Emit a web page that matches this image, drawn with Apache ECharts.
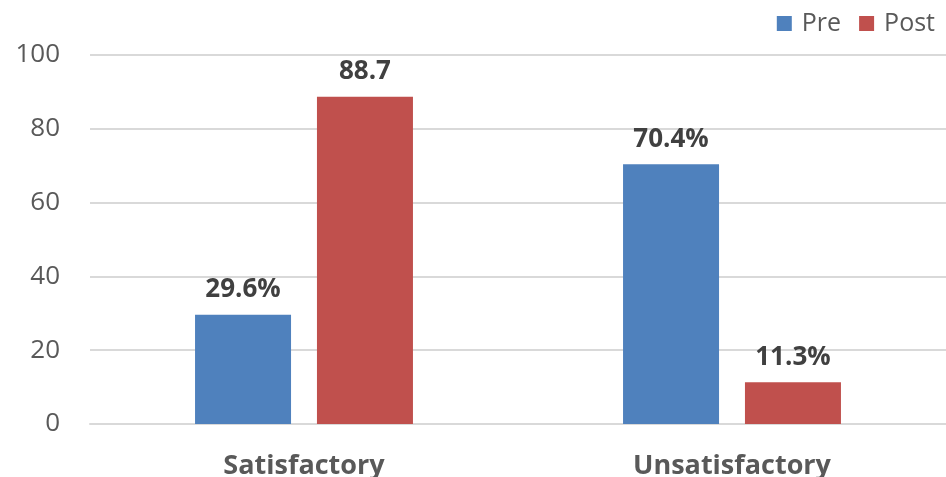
<!DOCTYPE html>
<html><head><meta charset="utf-8">
<script src="https://cdn.jsdelivr.net/npm/echarts@6/dist/echarts.min.js"></script>
<style>html,body{margin:0;padding:0;background:#fff}#c{width:946px;height:477px}</style>
</head><body><div id="c"></div>
<script>
const categories = ['Satisfactory', 'Unsatisfactory'];
const preValues = [29.6, 70.4];
const postValues = [88.7, 11.3];
const preLabels = ['29.6%', '70.4%'];
const postLabels = ['88.7', '11.3%'];
const yTicks = [0, 20, 40, 60, 80, 100];

const chart = echarts.init(document.getElementById('c'));
const font = '"Open Sans", "Liberation Sans", sans-serif';
const labelStyle = (labels) => ({
  show: true, position: 'top', distance: 12,
  formatter: p => labels[p.dataIndex],
  fontFamily: font, fontSize: 26, fontWeight: 'bold', color: '#404040'
});
chart.setOption({
  animation: false,
  textStyle: { fontFamily: font },
  legend: {
    right: 6, top: 6, itemWidth: 15, itemHeight: 15, itemGap: 18, icon: 'rect',
    textStyle: { fontSize: 25, color: '#595959', fontFamily: font, padding: [0, 0, 0, 5] },
    data: ['Pre', 'Post']
  },
  grid: { left: 90, right: 0, top: 55, bottom: 53, containLabel: false, outerBoundsMode: 'none' },
  xAxis: {
    type: 'category', data: categories,
    axisLine: { lineStyle: { color: '#d9d9d9', width: 2 } },
    axisTick: { show: false },
    axisLabel: { margin: 29, fontSize: 27, fontWeight: 'bold', color: '#595959', fontFamily: font }
  },
  yAxis: {
    type: 'value', min: yTicks[0], max: yTicks[yTicks.length - 1], interval: 20,
    axisLine: { show: false }, axisTick: { show: false },
    axisLabel: { margin: 30, fontSize: 26, color: '#595959', fontFamily: font },
    splitLine: { lineStyle: { color: '#d9d9d9', width: 2 } }
  },
  series: [
    { name: 'Pre', type: 'bar', data: preValues, barWidth: 96, barGap: '27%',
      itemStyle: { color: '#4f81bd' }, label: labelStyle(preLabels) },
    { name: 'Post', type: 'bar', data: postValues, barWidth: 96,
      itemStyle: { color: '#c0504d' }, label: labelStyle(postLabels) }
  ]
});
</script></body></html>
